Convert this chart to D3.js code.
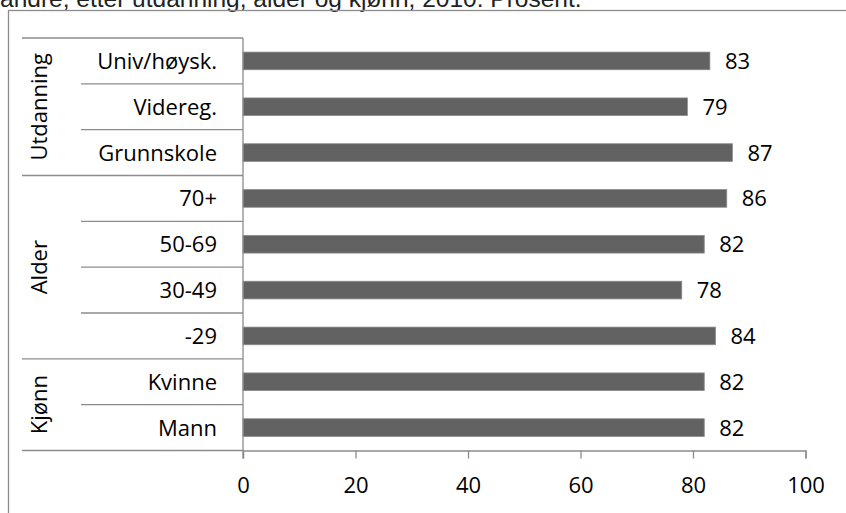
<!DOCTYPE html>
<html>
<head>
<meta charset="utf-8">
<script src="https://cdn.jsdelivr.net/npm/d3@7"></script>
<style>
  html, body { margin: 0; padding: 0; background: #fff; }
  svg { display: block; }
</style>
</head>
<body>
<svg id="chart" width="846" height="513"></svg>
<script>
// ---- data ----
const titleText = "andre, etter utdanning, alder og kjønn, 2010. Prosent.";
const categories = ["Univ/høysk.", "Videreg.", "Grunnskole", "70+", "50-69", "30-49", "-29", "Kvinne", "Mann"];
const values = [83, 79, 87, 86, 82, 78, 84, 82, 82];
const groupNames = ["Utdanning", "Alder", "Kjønn"];
const groupSizes = [3, 4, 2];
const xTicks = [0, 20, 40, 60, 80, 100];

// ---- layout ----
const svg = d3.select("#chart");
const W = 846, H = 513;
const plot = { left: 243, right: 805.5, top: 38, bottom: 450.5 };
const font = "'Open Sans', 'Noto Sans', sans-serif";
const fs = 22;
const lineColor = "#8c8c8c";

// title (clipped at top, as in the reference)
svg.append("text")
  .attr("x", 0).attr("y", 7)
  .attr("font-family", "'Liberation Sans', Arial, sans-serif")
  .attr("font-size", 24.5)
  .attr("fill", "#222")
  .text(titleText);

// frame
svg.append("rect")
  .attr("x", 8.5).attr("y", 10.5)
  .attr("width", W + 20).attr("height", H + 20)
  .attr("fill", "none").attr("stroke", "#8c8c8c").attr("stroke-width", 1.3);

const x = d3.scaleLinear().domain([0, 100]).range([plot.left, plot.right]);
const y = d3.scaleBand().domain(categories).range([plot.top, plot.bottom]).paddingInner(0.615).paddingOuter(0.3075);
const band = (plot.bottom - plot.top) / categories.length;

// bars
svg.append("g").selectAll("rect").data(categories).join("rect")
  .attr("x", x(0))
  .attr("y", d => y(d))
  .attr("width", (d, i) => x(values[i]) - x(0))
  .attr("height", y.bandwidth())
  .attr("fill", "#626262")
  .attr("stroke", "#8a8a8a").attr("stroke-width", 0.8);

// value labels
svg.append("g").selectAll("text").data(categories).join("text")
  .attr("x", (d, i) => x(values[i]) + 15)
  .attr("y", d => y(d) + y.bandwidth() / 2)
  .attr("dy", "0.36em")
  .attr("font-family", font).attr("font-size", fs)
  .attr("fill", "#000")
  .text((d, i) => values[i]);

// x axis
const xAxis = d3.axisBottom(x).tickValues(xTicks).tickSize(8).tickPadding(19).tickFormat(d3.format("d"));
const gx = svg.append("g").attr("transform", `translate(0,${plot.bottom})`).call(xAxis);
gx.select(".domain").attr("stroke", lineColor).attr("stroke-width", 1.3);
gx.selectAll(".tick line").attr("stroke", lineColor).attr("stroke-width", 1.3);
gx.selectAll(".tick text").attr("font-family", font).attr("font-size", fs).attr("fill", "#000");

// y axis vertical line
svg.append("line")
  .attr("x1", plot.left).attr("x2", plot.left)
  .attr("y1", plot.top).attr("y2", plot.bottom + 8)
  .attr("stroke", lineColor).attr("stroke-width", 1.3);

// category labels
svg.append("g").selectAll("text").data(categories).join("text")
  .attr("x", plot.left - 26)
  .attr("y", d => y(d) + y.bandwidth() / 2)
  .attr("dy", "0.36em")
  .attr("text-anchor", "end")
  .attr("font-family", font).attr("font-size", fs)
  .attr("fill", "#000")
  .text(d => d);

// separators & group labels
let start = 0;
groupSizes.forEach((n, gi) => {
  const y0 = plot.top + start * band;
  const y1 = plot.top + (start + n) * band;
  svg.append("line").attr("x1", 22).attr("x2", plot.left)
    .attr("y1", y0).attr("y2", y0).attr("stroke", lineColor).attr("stroke-width", 1.3);
  for (let k = 1; k < n; k++) {
    const yy = plot.top + (start + k) * band;
    svg.append("line").attr("x1", 81).attr("x2", plot.left)
      .attr("y1", yy).attr("y2", yy).attr("stroke", lineColor).attr("stroke-width", 1.3);
  }
  svg.append("text")
    .attr("transform", `translate(39,${(y0 + y1) / 2}) rotate(-90)`)
    .attr("text-anchor", "middle").attr("dy", "0.36em")
    .attr("font-family", font).attr("font-size", fs).attr("fill", "#000")
    .text(groupNames[gi]);
  start += n;
});
svg.append("line").attr("x1", 22).attr("x2", plot.left)
  .attr("y1", plot.bottom).attr("y2", plot.bottom).attr("stroke", lineColor).attr("stroke-width", 1.3);
</script>
</body>
</html>
